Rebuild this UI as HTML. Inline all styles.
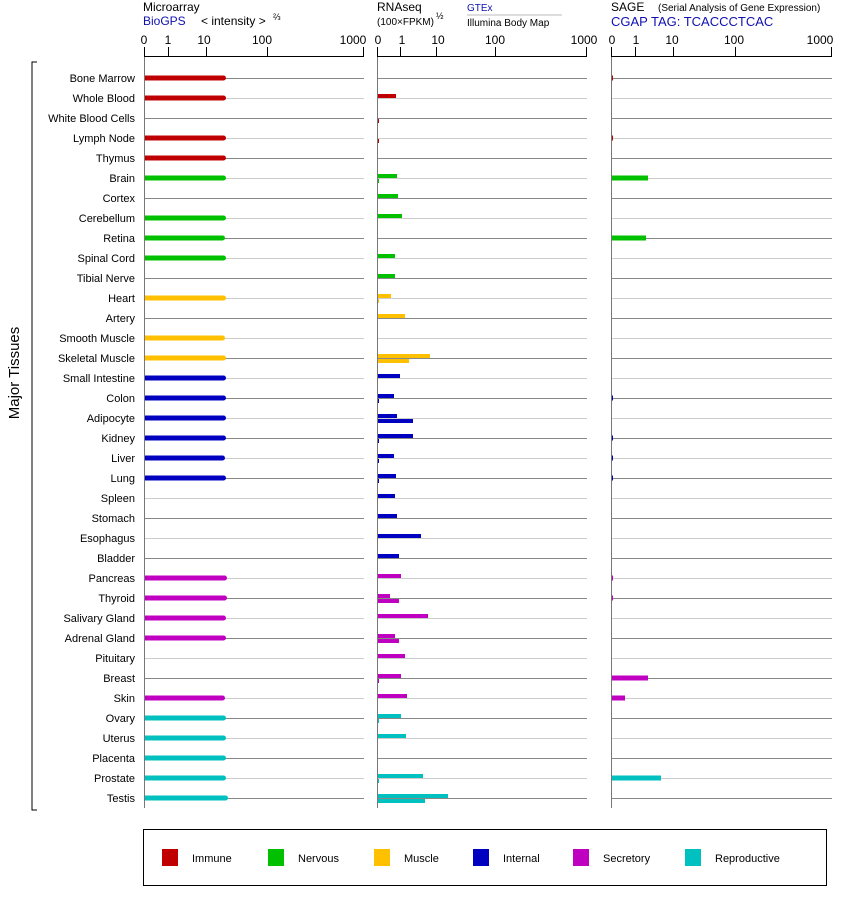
<!DOCTYPE html>
<html><head><meta charset="utf-8"><style>
body{margin:0;background:#fff;width:842px;height:900px;overflow:hidden}
svg{font-family:"Liberation Sans",Arial,sans-serif}
</style></head><body>
<svg id="s" width="842" height="900" xmlns="http://www.w3.org/2000/svg">
<g font-size="12" fill="#000">
<text x="143" y="11">Microarray</text>
<text x="143" y="25" fill="#1010b0">BioGPS</text>
<text x="201" y="25" font-size="12">&lt; intensity &gt;</text><text x="273" y="20" font-size="9">⅔</text>
<text x="377" y="11">RNAseq</text>
<text x="377" y="25" font-size="10">(100×FPKM)</text><text x="436" y="19" font-size="9">½</text>
<text x="467" y="11" font-size="10" fill="#1010b0">GTEx</text>
<line x1="467" y1="15" x2="562" y2="15" stroke="#bbb"/>
<text x="467" y="26" font-size="10">Illumina Body Map</text>
<text x="611" y="11">SAGE</text><text x="658" y="11" font-size="10">(Serial Analysis of Gene Expression)</text>
<text x="611" y="26" fill="#1010b0" font-size="13">CGAP TAG: TCACCCTCAC</text>
</g>
<g font-size="11" text-anchor="end" id="labels">
<text x="135" y="82">Bone Marrow</text><text x="135" y="102">Whole Blood</text><text x="135" y="122">White Blood Cells</text><text x="135" y="142">Lymph Node</text><text x="135" y="162">Thymus</text><text x="135" y="182">Brain</text><text x="135" y="202">Cortex</text><text x="135" y="222">Cerebellum</text><text x="135" y="242">Retina</text><text x="135" y="262">Spinal Cord</text><text x="135" y="282">Tibial Nerve</text><text x="135" y="302">Heart</text><text x="135" y="322">Artery</text><text x="135" y="342">Smooth Muscle</text><text x="135" y="362">Skeletal Muscle</text><text x="135" y="382">Small Intestine</text><text x="135" y="402">Colon</text><text x="135" y="422">Adipocyte</text><text x="135" y="442">Kidney</text><text x="135" y="462">Liver</text><text x="135" y="482">Lung</text><text x="135" y="502">Spleen</text><text x="135" y="522">Stomach</text><text x="135" y="542">Esophagus</text><text x="135" y="562">Bladder</text><text x="135" y="582">Pancreas</text><text x="135" y="602">Thyroid</text><text x="135" y="622">Salivary Gland</text><text x="135" y="642">Adrenal Gland</text><text x="135" y="662">Pituitary</text><text x="135" y="682">Breast</text><text x="135" y="702">Skin</text><text x="135" y="722">Ovary</text><text x="135" y="742">Uterus</text><text x="135" y="762">Placenta</text><text x="135" y="782">Prostate</text><text x="135" y="802">Testis</text>
</g>
<text transform="translate(19,373) rotate(-90)" text-anchor="middle" font-size="15">Major Tissues</text>
<path d="M37 62H32V810H37" fill="none" stroke="#000"/>
<g font-size="12" text-anchor="middle">
<text x="144" y="44">0</text><text x="168" y="44">1</text><text x="204" y="44">10</text><text x="262" y="44">100</text><text x="353" y="44">1000</text>
<text x="378" y="44">0</text><text x="402" y="44">1</text><text x="438" y="44">10</text><text x="495" y="44">100</text><text x="584" y="44">1000</text>
<text x="612" y="44">0</text><text x="636" y="44">1</text><text x="672" y="44">10</text><text x="734" y="44">100</text><text x="820" y="44">1000</text>
</g>
<rect x="143.5" y="829.5" width="683" height="56" fill="none" stroke="#000"/>
<g font-size="11">
<rect x="162" y="849" width="16" height="17" fill="#c00000"/><text x="192" y="862">Immune</text>
<rect x="268" y="849" width="16" height="17" fill="#00c000"/><text x="298" y="862">Nervous</text>
<rect x="374" y="849" width="16" height="17" fill="#ffc000"/><text x="404" y="862">Muscle</text>
<rect x="473" y="849" width="16" height="17" fill="#0000c0"/><text x="503" y="862">Internal</text>
<rect x="573" y="849" width="16" height="17" fill="#c000c0"/><text x="603" y="862">Secretory</text>
<rect x="685" y="849" width="16" height="17" fill="#00c0c0"/><text x="715" y="862">Reproductive</text>
</g>
<g id="g"></g>
</svg>
<script>
var g=document.getElementById('g'),h='';
function L(x1,y1,x2,y2,c,w){h+='<line x1="'+x1+'" y1="'+y1+'" x2="'+x2+'" y2="'+y2+'" stroke="'+c+'" stroke-width="'+(w||1)+'"/>';}
function R(x,y,w,hh,c){h+='<rect x="'+x+'" y="'+y+'" width="'+w+'" height="'+hh+'" fill="'+c+'"/>';}
var cols=[[144,364],[377,587],[611,832]];
for(var i=0;i<37;i++){var y=78.5+20*i;cols.forEach(function(c){L(c[0],y,c[1],y,i%2?'#ccc':'#888');});}
var C={I:'#c00000',N:'#00c000',M:'#ffc000',T:'#0000c0',S:'#c000c0',R:'#00c0c0'};
var cat='IIIIINNNNNNMMMMTTTTTTTTTTSSSSSSSRRRRR';
var mic=[226,226,0,226,226,226,0,226,225,226,0,226,0,225,226,226,226,226,226,225,226,0,0,0,0,227,227,226,226,0,0,225,226,226,226,226,228];
var gt=[0,396,0,0,0,397,398,402,0,395,395,391,405,0,430,400,394,397,413,394,396,395,397,421,399,401,390,428,395,405,401,407,401,406,0,423,448];
var il=[0,0,379,379,0,379,0,0,0,0,0,379,0,0,409,0,379,413,379,379,379,0,0,0,0,0,399,0,399,0,379,0,379,0,0,379,425];
var sg={0:613,3:613,5:648,6:612,7:612,8:646,9:612,11:612,14:612,16:613,18:613,19:613,20:613,25:613,26:613,30:648,31:625,34:612,35:661};
for(var i=0;i<37;i++){var y=78+20*i,c=C[cat[i]];
if(mic[i]){R(144,y-2.5,mic[i]-144-2,5,c);h+='<circle cx="'+(mic[i]-2.5)+'" cy="'+y+'" r="2.5" fill="'+c+'"/>';}
if(gt[i])R(377,y-4,gt[i]-377,4,c);
if(il[i])R(377,y+1,il[i]-377,4,c);
if(sg[i])R(611,y-2.5,sg[i]-611,5,c);}
cols.forEach(function(c){var a=c[0],b=c[1],W=b-a;L(a+.5,47,a+.5,808,'#777');L(a,56.5,b,56.5,'#000');
[0,.11,.28,.56,1].forEach(function(f){var x=Math.round(a+f*W)+.5;if(f==1)x-=1;L(x,47,x,56,'#000');});});
g.innerHTML=h;
</script>
</body></html>
